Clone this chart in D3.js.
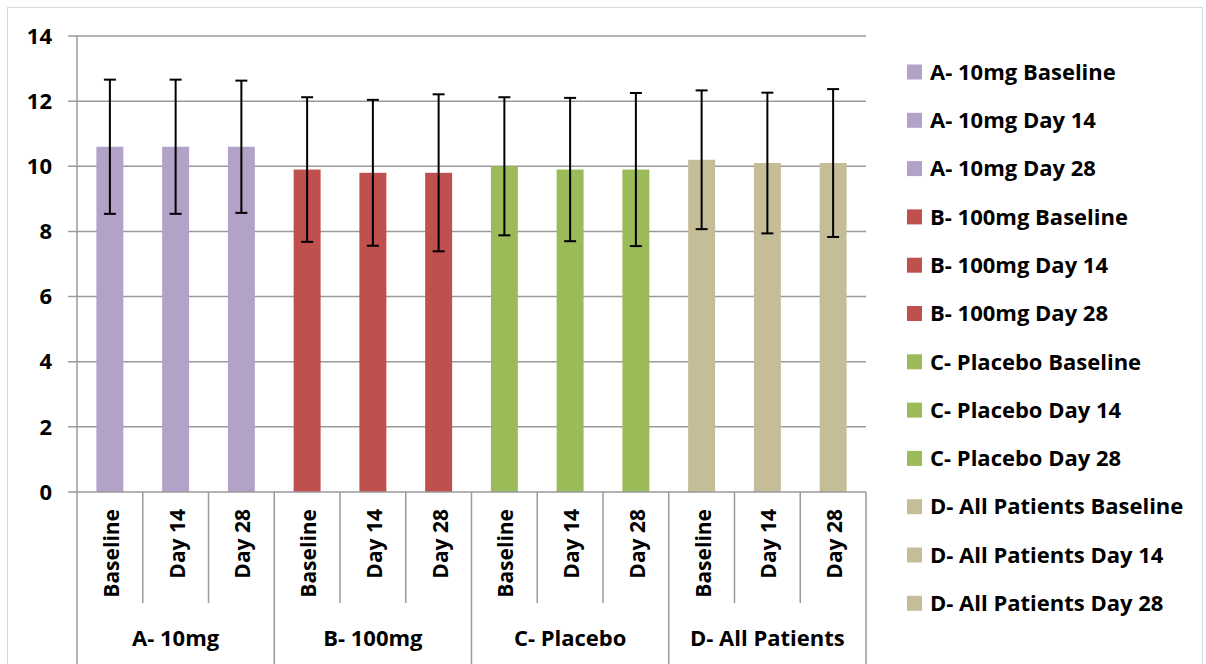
<!DOCTYPE html>
<html>
<head>
<meta charset="utf-8">
<script src="https://cdn.jsdelivr.net/npm/d3@7"></script>
<style>
  body { margin: 0; background: #fff; }
  svg text { font-family: "Open Sans", sans-serif; font-weight: bold; fill: #000; }
</style>
</head>
<body>
<svg id="chart" width="1206" height="664"></svg>
<script>
const groups = ['A- 10mg', 'B- 100mg', 'C- Placebo', 'D- All Patients']
const times = ['Baseline', 'Day 14', 'Day 28']
const colors = ['#b2a2c7', '#c0504d', '#9bbb59', '#c4bd97']

// mean per group, in time order
const means = [
  [10.6, 10.6, 10.6],
  [9.9, 9.8, 9.8],
  [10.0, 9.9, 9.9],
  [10.2, 10.1, 10.1]
]
// standard deviation (error bar half length)
const sds = [
  [2.06, 2.06, 2.03],
  [2.22, 2.24, 2.41],
  [2.12, 2.2, 2.35],
  [2.13, 2.16, 2.27]
]
const yTicks = [0, 2, 4, 6, 8, 10, 12, 14]

const svg = d3.select('#chart')
const width = 1206
const height = 664

const plotL = 77, plotR = 866, plotT = 36, plotB = 492

// chart frame
svg.append('rect')
  .attr('x', 7.5).attr('y', 7.5)
  .attr('width', 1195).attr('height', 670)
  .attr('fill', 'none')
  .attr('stroke', '#d9d9d9')

const y = d3.scaleLinear().domain([0, 14]).range([plotB, plotT])

const xGroup = d3.scaleBand().domain(groups).range([plotL, plotR])
const xSub = d3.scaleBand().domain(times).range([0, xGroup.bandwidth()])
const barW = xSub.bandwidth() * 0.41

// gridlines
svg.append('g').selectAll('line')
  .data(yTicks.filter(d => d > 0))
  .enter()
  .append('line')
  .attr('x1', plotL - 9)
  .attr('x2', plotR)
  .attr('y1', d => y(d))
  .attr('y2', d => y(d))
  .attr('stroke', '#9a9a9a')
  .attr('stroke-width', 1.5)

// y axis line
svg.append('line')
  .attr('x1', plotL).attr('x2', plotL)
  .attr('y1', plotT).attr('y2', plotB)
  .attr('stroke', '#9a9a9a').attr('stroke-width', 1.5)

svg.append('g').selectAll('text')
  .data(yTicks)
  .enter()
  .append('text')
  .attr('x', 52)
  .attr('y', d => y(d))
  .attr('dy', '0.35em')
  .attr('text-anchor', 'end')
  .attr('font-size', '22px')
  .text(d => d)

// flatten data
const rows = []
groups.forEach((g, gi) => {
  times.forEach((t, ti) => {
    rows.push({ group: g, time: t, value: means[gi][ti], sd: sds[gi][ti], color: colors[gi] })
  })
})

const cx = d => xGroup(d.group) + xSub(d.time) + xSub.bandwidth() / 2

svg.append('g').selectAll('rect')
  .data(rows)
  .enter()
  .append('rect')
  .attr('x', d => cx(d) - barW / 2)
  .attr('y', d => y(d.value))
  .attr('width', barW)
  .attr('height', d => plotB - y(d.value))
  .attr('fill', d => d.color)

// error bars
const errG = svg.append('g').attr('stroke', '#000').attr('stroke-width', 2)
rows.forEach(d => {
  const x = cx(d)
  errG.append('line').attr('x1', x).attr('x2', x)
    .attr('y1', y(d.value + d.sd)).attr('y2', y(d.value - d.sd))
  errG.append('line').attr('x1', x - 6).attr('x2', x + 6)
    .attr('y1', y(d.value + d.sd)).attr('y2', y(d.value + d.sd))
  errG.append('line').attr('x1', x - 6).attr('x2', x + 6)
    .attr('y1', y(d.value - d.sd)).attr('y2', y(d.value - d.sd))
})

// category axis
svg.append('line')
  .attr('x1', plotL - 9).attr('x2', plotR)
  .attr('y1', plotB).attr('y2', plotB)
  .attr('stroke', '#9a9a9a').attr('stroke-width', 1.5)

const tickG = svg.append('g').attr('stroke', '#9a9a9a').attr('stroke-width', 1.5)
groups.forEach(g => {
  times.forEach((t, ti) => {
    if (ti > 0) {
      const x = xGroup(g) + xSub(t)
      tickG.append('line').attr('x1', x).attr('x2', x).attr('y1', plotB).attr('y2', 603)
    }
  })
})
groups.concat([null]).forEach((g, i) => {
  const x = g ? xGroup(g) : plotR
  tickG.append('line').attr('x1', x).attr('x2', x).attr('y1', plotB).attr('y2', height)
})

svg.append('g').selectAll('text')
  .data(rows)
  .enter()
  .append('text')
  .attr('transform', d => `translate(${cx(d) + 9},509) rotate(-90)`)
  .attr('text-anchor', 'end')
  .attr('font-size', '21px')
  .text(d => d.time)

svg.append('g').selectAll('text')
  .data(groups)
  .enter()
  .append('text')
  .attr('x', d => xGroup(d) + xGroup.bandwidth() / 2)
  .attr('y', 638)
  .attr('dy', '0.35em')
  .attr('text-anchor', 'middle')
  .attr('font-size', '22px')
  .text(d => d)

// legend
const legend = svg.append('g').selectAll('g')
  .data(rows)
  .enter()
  .append('g')
  .attr('transform', (d, i) => `translate(907,${72 + i * 48.3})`)

legend.append('rect')
  .attr('x', 0).attr('y', -7.5)
  .attr('width', 15).attr('height', 15)
  .attr('fill', d => d.color)

legend.append('text')
  .attr('x', 23)
  .attr('dy', '0.35em')
  .attr('font-size', '22px')
  .text(d => d.group + ' ' + d.time)
</script>
</body>
</html>
